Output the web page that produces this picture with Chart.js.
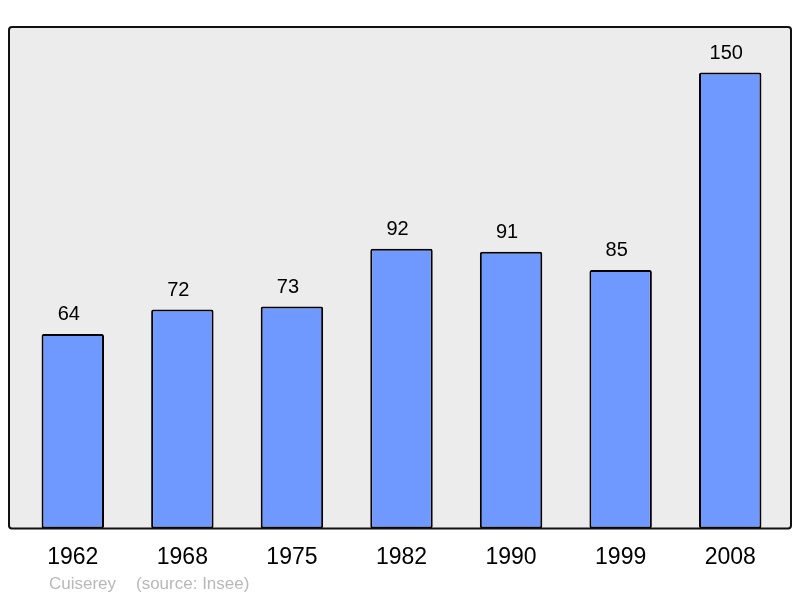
<!DOCTYPE html>
<html lang="fr">
<head>
  <meta charset="UTF-8">
  <title>Cuiserey - population</title>
  <script src="https://cdn.jsdelivr.net/npm/chart.js@4.4.1/dist/chart.umd.min.js"></script>
  <style>
    html, body { margin: 0; padding: 0; background: #fff; }
  </style>
</head>
<body>
  <canvas id="myChart" width="800" height="598"></canvas>
  <script>
    // population data (Insee)
    const years = ['1962', '1968', '1975', '1982', '1990', '1999', '2008'];
    const population = [64, 72, 73, 92, 91, 85, 150];
    const townName = 'Cuiserey';
    const sourceText = '(source: Insee)';

    // grey frame behind the bars + value labels + footer
    const framePlugin = {
      id: 'frame',
      beforeDraw(chart) {
        const { ctx, chartArea } = chart;
        const x0 = chartArea.left - 9, x1 = chartArea.right + 6;
        const y0 = chartArea.top, y1 = chartArea.bottom;
        ctx.save();
        ctx.beginPath();
        ctx.roundRect(x0, y0, x1 - x0, y1 - y0, 3);
        ctx.fillStyle = '#ececec';
        ctx.fill();
        ctx.restore();
      },
      afterDatasetsDraw(chart) {
        const { ctx, chartArea } = chart;
        const x0 = chartArea.left - 9, x1 = chartArea.right + 6;
        const y0 = chartArea.top, y1 = chartArea.bottom;
        ctx.save();
        ctx.beginPath();
        ctx.roundRect(x0, y0, x1 - x0, y1 - y0, 3);
        ctx.lineWidth = 2;
        ctx.strokeStyle = '#111';
        ctx.stroke();

        const meta = chart.getDatasetMeta(0);
        ctx.fillStyle = '#000';
        ctx.font = '20px "Liberation Sans", Arial, sans-serif';
        ctx.textAlign = 'center';
        ctx.textBaseline = 'alphabetic';
        meta.data.forEach((bar, i) => {
          ctx.fillText(String(population[i]), bar.x - 4, bar.y - 14);
        });

        ctx.fillStyle = '#b8b8b8';
        ctx.font = '17px "Liberation Sans", Arial, sans-serif';
        ctx.textAlign = 'left';
        ctx.textBaseline = 'middle';
        ctx.fillText(townName, 49, 584);
        ctx.fillText(sourceText, 136, 584);
        ctx.restore();
      }
    };

    const ctx = document.getElementById('myChart').getContext('2d');
    const myChart = new Chart(ctx, {
      type: 'bar',
      data: {
        labels: years,
        datasets: [{
          data: population,
          backgroundColor: '#7099ff',
          borderColor: '#000',
          borderWidth: 2,
          borderRadius: 2,
          borderSkipped: false,
          barPercentage: 0.57,
          categoryPercentage: 1
        }]
      },
      options: {
        responsive: false,
        animation: false,
        layout: { padding: { left: 18, right: 15, top: 27, bottom: 12 } },
        plugins: {
          legend: { display: false },
          tooltip: { enabled: false }
        },
        scales: {
          x: {
            grid: { display: false, drawTicks: false },
            border: { display: false },
            ticks: {
              padding: 15,
              color: '#000',
              font: { size: 23, family: '"Liberation Sans", Arial, sans-serif' }
            }
          },
          y: {
            display: false,
            min: 0,
            max: 165
          }
        }
      },
      plugins: [framePlugin]
    });
  </script>
</body>
</html>
